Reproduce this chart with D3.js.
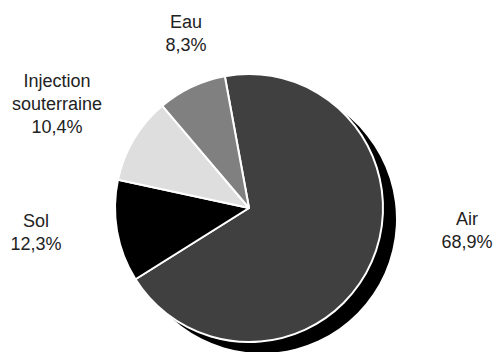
<!DOCTYPE html>
<html><head><meta charset="utf-8">
<script src="https://cdn.jsdelivr.net/npm/d3@7"></script>
<style>body{margin:0;background:#fff}svg{display:block}text{font-family:"Liberation Sans",Arial,sans-serif;font-size:18px;fill:#222}</style>
</head><body>
<script>
const categories = ["Air", "Sol", "Injection souterraine", "Eau"];
const values = [68.9, 12.3, 10.4, 8.3];
const valueLabels = ["68,9%", "12,3%", "10,4%", "8,3%"];
const colors = ["#404040", "#000000", "#dedede", "#808080"];

const W = 497, H = 352;
const cx = 249, cy = 208, R = 134;
const svg = d3.select("body").append("svg").attr("width", W).attr("height", H);
const data = categories.map((c, i) => ({cat: c, v: values[i], lab: valueLabels[i], col: colors[i]}));
const start = -10.4 * Math.PI / 180;
const pie = d3.pie().value(d => d.v).sort(null).startAngle(start).endAngle(start + 2 * Math.PI);
const arcs = pie(data);
const arc = d3.arc().innerRadius(0).outerRadius(R);
const g = svg.append("g").attr("transform", `translate(${cx},${cy})`);
// shadow behind the largest slice
g.append("path").attr("d", arc(arcs[0])).attr("fill", "#000").attr("transform", "translate(13,11)");
g.selectAll("path.slice").data(arcs).join("path").attr("class", "slice")
  .attr("d", arc).attr("fill", d => d.data.col).attr("stroke", "#fff").attr("stroke-width", 2).attr("stroke-linejoin", "round");

const labelPos = {
  "Air": [467, 225, ["Air"]],
  "Sol": [36, 227, ["Sol"]],
  "Injection souterraine": [57, 87, ["Injection", "souterraine"]],
  "Eau": [186, 28, ["Eau"]]
};
data.forEach(d => {
  const [x, y, lines] = labelPos[d.cat];
  const t = svg.append("text").attr("text-anchor", "middle").attr("x", x).attr("y", y);
  lines.concat([d.lab]).forEach((l, i) => t.append("tspan").attr("x", x).attr("y", y + i * 23).text(l));
});
</script>
</body></html>
